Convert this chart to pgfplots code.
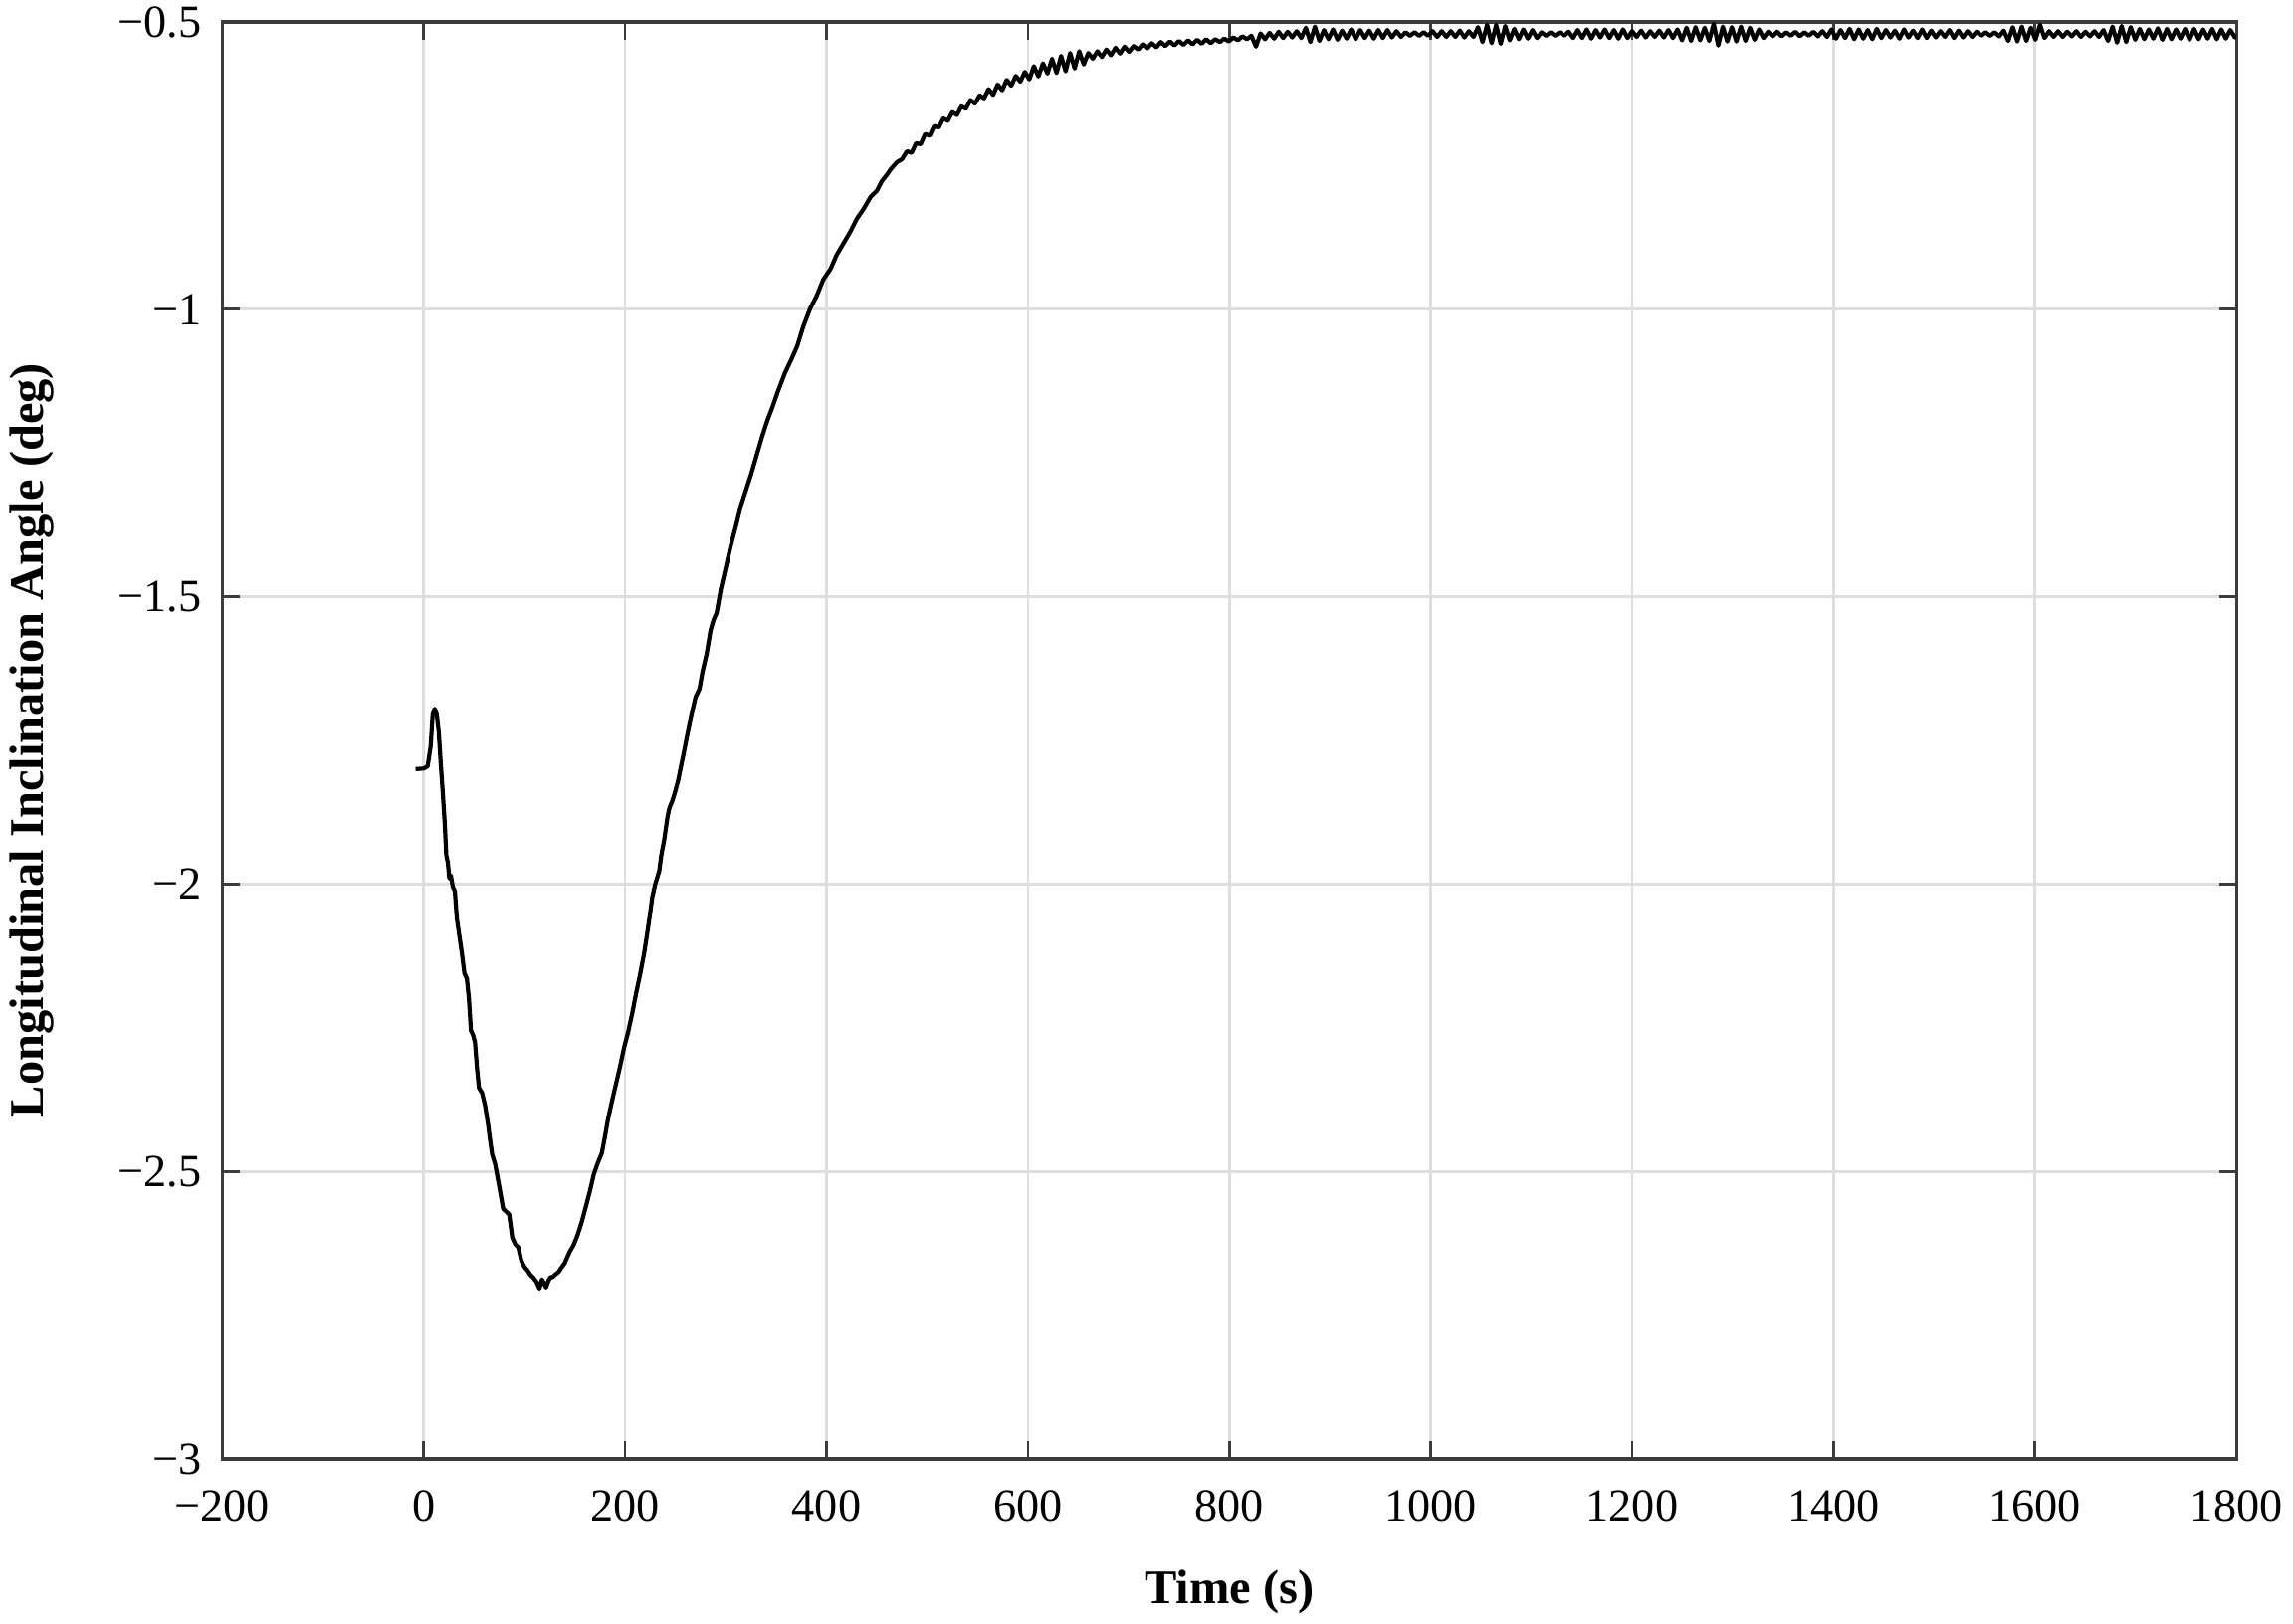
\documentclass[border=0pt]{standalone}
\usepackage{fontspec}
\setmainfont{Liberation Serif}
\usepackage{pgfplots}
\pgfplotsset{compat=1.18}
\usepackage{pgfplotstable}
\usetikzlibrary{calc}

\pgfplotstableread{
t v
-8 -1.800
0 -1.799
4 -1.795
7 -1.760
9 -1.705
11 -1.695
13 -1.705
15 -1.735
17 -1.790
19 -1.840
21 -1.895
22.5 -1.950
24 -1.962
25.5 -1.990
27 -1.985
29 -2.005
31 -2.012
33 -2.060
35.5 -2.090
38 -2.120
40.5 -2.155
43 -2.165
45 -2.200
47 -2.255
49 -2.262
51 -2.275
53 -2.320
55 -2.355
58 -2.363
61 -2.385
64 -2.418
66 -2.445
68 -2.470
71 -2.487
75 -2.525
79 -2.565
82 -2.570
85 -2.575
88 -2.615
91 -2.627
94 -2.632
97 -2.655
100 -2.666
103 -2.672
106 -2.680
109 -2.685
112 -2.692
115 -2.704
117.5 -2.688
119.5 -2.694
121.5 -2.702
124 -2.690
126 -2.684
128 -2.684
131 -2.679
134 -2.675
137 -2.667
140 -2.660
142 -2.652
145 -2.640
149 -2.628
153 -2.610
157 -2.588
161 -2.562
165 -2.535
169 -2.505
173 -2.485
177 -2.468
180 -2.440
183 -2.410
187 -2.378
191 -2.348
195 -2.318
199 -2.285
203 -2.258
207 -2.226
211 -2.190
215 -2.157
219 -2.120
222 -2.086
225 -2.050
227 -2.023
230 -2.000
234 -1.977
236 -1.950
239 -1.922
242 -1.885
244 -1.868
247 -1.855
250 -1.838
253 -1.818
255 -1.800
258 -1.775
261 -1.748
264 -1.722
267 -1.698
270 -1.675
274 -1.660
277 -1.630
281 -1.600
285 -1.558
288 -1.540
291 -1.528
295 -1.488
300 -1.450
305 -1.411
310 -1.378
315 -1.342
320 -1.315
325 -1.288
330 -1.258
336 -1.222
341 -1.195
346 -1.172
352 -1.142
359 -1.110
365 -1.088
371 -1.064
377 -1.030
384 -0.998
390 -0.978
397 -0.948
404 -0.930
410 -0.906
417 -0.885
424 -0.864
430 -0.843
437 -0.825
444 -0.804
450 -0.794
455 -0.777
460 -0.766
464 -0.756
470 -0.744
475 -0.739
480 -0.725
484.5 -0.728
489 -0.711
493.5 -0.713
498 -0.695
502.5 -0.698
507 -0.681
511.5 -0.684
516 -0.668
520.5 -0.672
525 -0.657
529.5 -0.662
534 -0.647
538.5 -0.651
543 -0.636
547.5 -0.642
552 -0.628
556.5 -0.633
561 -0.617
565.5 -0.627
570 -0.609
574.5 -0.619
579 -0.601
583.5 -0.611
588 -0.594
592.5 -0.604
597 -0.587
601.5 -0.600
606 -0.577
610.5 -0.595
615 -0.572
619.5 -0.590
624 -0.564
628.5 -0.589
633 -0.559
637.5 -0.586
642 -0.554
646.5 -0.581
651 -0.551
655.5 -0.574
660 -0.554
664.5 -0.564
669 -0.551
673.5 -0.561
678 -0.548
682.5 -0.558
687 -0.545
691.5 -0.555
696 -0.543
700.5 -0.552
705 -0.542
709.5 -0.548
714 -0.539
718.5 -0.546
723 -0.537
727.5 -0.544
732 -0.535
736.5 -0.542
741 -0.534
745.5 -0.541
750 -0.533
754.5 -0.540
759 -0.532
763.5 -0.539
768 -0.531
772.5 -0.538
777 -0.530
781.5 -0.537
786 -0.530
790.5 -0.535
795 -0.529
799.5 -0.534
804 -0.527
808.5 -0.532
813 -0.525
817.5 -0.530
822 -0.524
826.5 -0.543
831 -0.520
835.5 -0.530
840 -0.519
844.5 -0.529
849 -0.517
853.5 -0.528
858 -0.517
862.5 -0.527
867 -0.516
871.5 -0.528
876 -0.510
880.5 -0.535
885 -0.508
889.5 -0.533
894 -0.514
898.5 -0.530
903 -0.513
907.5 -0.531
912 -0.515
916.5 -0.529
921 -0.513
925.5 -0.530
930 -0.514
934.5 -0.528
939 -0.515
943.5 -0.529
948 -0.514
952.5 -0.528
957 -0.514
961.5 -0.527
966 -0.516
970.5 -0.526
975 -0.518
979.5 -0.524
984 -0.518
988.5 -0.524
993 -0.518
997.5 -0.524
1002 -0.516
1006.5 -0.526
1011 -0.516
1015.5 -0.526
1020 -0.516
1024.5 -0.526
1029 -0.515
1033.5 -0.527
1038 -0.516
1042.5 -0.526
1047 -0.509
1051.5 -0.535
1056 -0.505
1060.5 -0.537
1065 -0.505
1069.5 -0.538
1074 -0.507
1078.5 -0.532
1083 -0.512
1087.5 -0.530
1092 -0.513
1096.5 -0.529
1101 -0.514
1105.5 -0.528
1110 -0.518
1114.5 -0.524
1119 -0.518
1123.5 -0.524
1128 -0.518
1132.5 -0.524
1137 -0.517
1141.5 -0.528
1146 -0.514
1150.5 -0.528
1155 -0.513
1159.5 -0.529
1164 -0.514
1168.5 -0.527
1173 -0.513
1177.5 -0.528
1182 -0.514
1186.5 -0.529
1191 -0.513
1195.5 -0.528
1200 -0.516
1204.5 -0.526
1209 -0.515
1213.5 -0.527
1218 -0.516
1222.5 -0.526
1227 -0.515
1231.5 -0.527
1236 -0.514
1240.5 -0.528
1245 -0.513
1249.5 -0.532
1254 -0.510
1258.5 -0.533
1263 -0.509
1267.5 -0.532
1272 -0.510
1276.5 -0.533
1281 -0.503
1285.5 -0.541
1290 -0.508
1294.5 -0.534
1299 -0.509
1303.5 -0.534
1308 -0.508
1312.5 -0.533
1317 -0.510
1321.5 -0.531
1326 -0.513
1330.5 -0.528
1335 -0.517
1339.5 -0.525
1344 -0.517
1348.5 -0.525
1353 -0.518
1357.5 -0.524
1362 -0.517
1366.5 -0.525
1371 -0.518
1375.5 -0.524
1380 -0.517
1384.5 -0.525
1389 -0.516
1393.5 -0.526
1398 -0.513
1402.5 -0.529
1407 -0.514
1411.5 -0.528
1416 -0.512
1420.5 -0.530
1425 -0.513
1429.5 -0.529
1434 -0.514
1438.5 -0.530
1443 -0.512
1447.5 -0.528
1452 -0.514
1456.5 -0.527
1461 -0.515
1465.5 -0.529
1470 -0.513
1474.5 -0.527
1479 -0.515
1483.5 -0.528
1488 -0.513
1492.5 -0.528
1497 -0.515
1501.5 -0.527
1506 -0.516
1510.5 -0.526
1515 -0.514
1519.5 -0.528
1524 -0.515
1528.5 -0.527
1533 -0.516
1537.5 -0.526
1542 -0.517
1546.5 -0.524
1551 -0.518
1555.5 -0.524
1560 -0.518
1564.5 -0.525
1569 -0.515
1573.5 -0.533
1578 -0.509
1582.5 -0.534
1587 -0.508
1591.5 -0.533
1596 -0.510
1600.5 -0.531
1605 -0.505
1609.5 -0.528
1614 -0.516
1618.5 -0.526
1623 -0.516
1627.5 -0.526
1632 -0.517
1636.5 -0.525
1641 -0.516
1645.5 -0.526
1650 -0.517
1654.5 -0.525
1659 -0.516
1663.5 -0.526
1668 -0.514
1672.5 -0.533
1677 -0.508
1681.5 -0.536
1686 -0.507
1690.5 -0.535
1695 -0.509
1699.5 -0.531
1704 -0.512
1708.5 -0.530
1713 -0.513
1717.5 -0.529
1722 -0.511
1726.5 -0.531
1731 -0.512
1735.5 -0.530
1740 -0.513
1744.5 -0.529
1749 -0.512
1753.5 -0.531
1758 -0.512
1762.5 -0.530
1767 -0.513
1771.5 -0.529
1776 -0.512
1780.5 -0.530
1785 -0.513
1789.5 -0.529
1794 -0.514
1798.5 -0.527
1800 -0.522
}\datatable

\definecolor{gridgray}{RGB}{222,222,222}
\definecolor{axisgray}{RGB}{60,60,60}

\begin{document}
\begin{tikzpicture}
\begin{axis}[
  name=ax,
  at={(0,0)}, anchor=south west,
  scale only axis,
  width=459.3pt, height=327.7pt,
  xmin=-200, xmax=1800,
  ymin=-3, ymax=-0.5,
  xtick={-200,0,200,400,600,800,1000,1200,1400,1600,1800},
  xticklabels={−200,0,200,400,600,800,1000,1200,1400,1600,1800},
  ytick={-3,-2.5,-2,-1.5,-1,-0.5},
  yticklabels={−3,−2.5,−2,−1.5,−1,−0.5},
  tick align=inside,
  tick pos=both,
  major tick length=4pt,
  tick style={axisgray, line width=0.6pt},
  axis line style={axisgray, line width=0.7pt},
  grid=major,
  major grid style={gridgray, line width=0.6pt},
  ticklabel style={font=\fontsize{10.5}{12}\selectfont},
  xticklabel style={anchor=center, yshift=-10.7pt},
  yticklabel style={anchor=east, xshift=-1.2pt},
  xlabel={\textbf{Time (s)}},
  ylabel={\textbf{Longitudinal Inclination Angle (deg)}},
  label style={font=\fontsize{11}{13}\selectfont},
  xlabel style={at={($(rel axis cs:0.5,0)+(0,-30.4pt)$)}, anchor=center},
  ylabel style={at={($(rel axis cs:0,0.5)+(-43.3pt,0)$)}, anchor=center},
]
\addplot[black, line width=0.95pt, line join=round] table[x=t, y=v] {\datatable};
\end{axis}
\pgfresetboundingbox
\path[use as bounding box] ($(ax.south west)+(-50.67pt,-37.6pt)$) rectangle ($(ax.north east)+(12.9pt,5pt)$);
\end{tikzpicture}
\end{document}
